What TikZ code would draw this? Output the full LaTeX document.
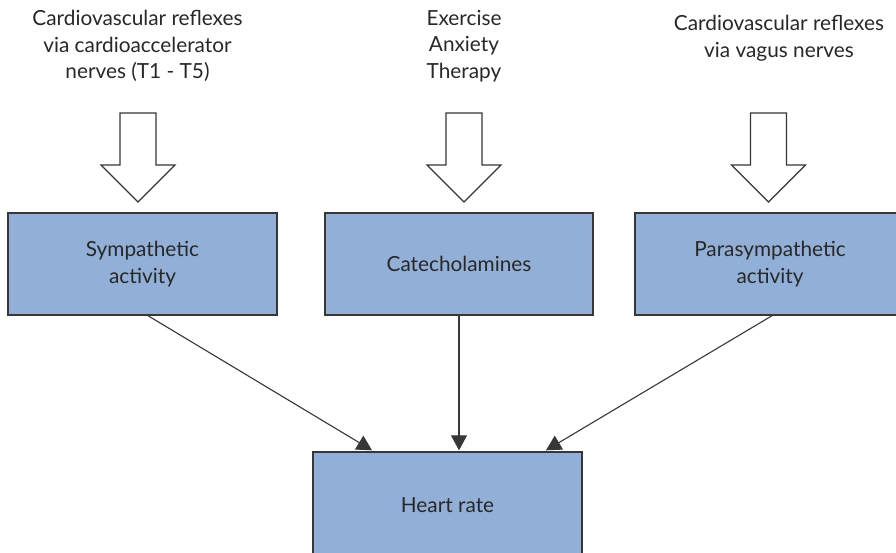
\documentclass[tikz,border=0pt]{standalone}
\usepackage{fontspec}
\setmainfont{Lato}
\usetikzlibrary{arrows.meta}
\definecolor{boxfill}{RGB}{146,175,215}
\definecolor{linegray}{RGB}{55,55,55}
\definecolor{txtgray}{RGB}{40,40,40}
\tikzset{
  every node/.style={text=txtgray, font=\fontsize{20.8}{26.5}\selectfont},
  bluebox/.style={draw=linegray, line width=1.4pt, fill=boxfill, align=center, inner sep=0pt},
  toplabel/.style={align=center, inner sep=0pt},
  link/.style={draw=linegray, line width=1.1pt, -{Triangle[length=15pt,width=16pt]}},
  blockarrow/.pic={\draw[linegray, line width=1.1pt, fill=white, line join=miter]
    (-18,0) -- (18,0) -- (18,52) -- (37,52) -- (0,89) -- (-37,52) -- (-18,52) -- cycle;}
}
\begin{document}
\begin{tikzpicture}[x=1pt,y=-1pt]
\useasboundingbox (0,0) rectangle (896,552);
\fill[white] (0,0) rectangle (896,552);
% top labels
\node[toplabel] (t1) at (137.5,46) {Cardiovascular reflexes\\via cardioaccelerator\\nerves (T1 - T5)};
\node[toplabel] (t2) at (464,46) {Exercise\\Anxiety\\Therapy};
\node[toplabel] (t3) at (779,38) {Cardiovascular reflexes\\via vagus nerves};
% hollow arrows
\pic at (138,113) {blockarrow};
\pic at (464,113) {blockarrow};
\pic at (768.5,113) {blockarrow};
% boxes
\node[bluebox, minimum width=269pt, minimum height=102pt] (symp) at (142.5,264) {Sympathetic\\activity};
\node[bluebox, minimum width=268pt, minimum height=102pt] (cat) at (459,264) {Catecholamines};
\node[bluebox, minimum width=270pt, minimum height=102pt] (para) at (770,264) {Parasympathetic\\activity};
\node[bluebox, minimum width=269pt, minimum height=106pt] (heart) at (447.5,505) {Heart rate};
% connectors
\draw[link] ([xshift=5.5pt]symp.south) -- ([xshift=-75.5pt,yshift=1pt]heart.north);
\draw[link] (cat.south) -- ([xshift=11.5pt,yshift=1pt]heart.north);
\draw[link] ([xshift=2pt]para.south) -- ([xshift=98.5pt,yshift=1pt]heart.north);
\end{tikzpicture}
\end{document}
